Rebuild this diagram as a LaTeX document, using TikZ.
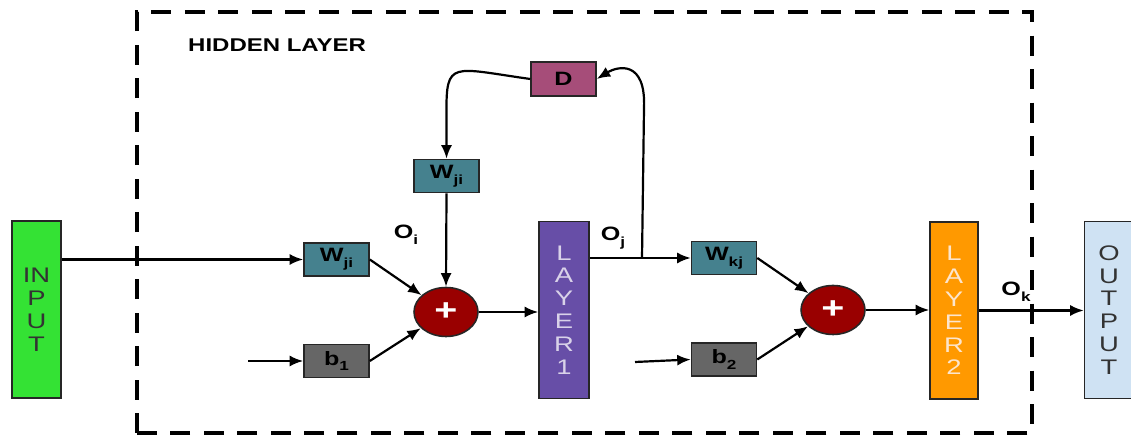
\documentclass[tikz,border=0pt]{standalone}
\usepackage{fontspec}
\setmainfont{Liberation Sans}
\setsansfont[FakeStretch=1.3]{Liberation Sans}
\usepackage{xcolor}
\usepackage{tikz}
\usetikzlibrary{positioning, arrows.meta, calc, shapes.geometric}
\definecolor{inputgreen}{RGB}{52,226,52}
\definecolor{layerpurple}{RGB}{103,78,167}
\definecolor{layerlilac}{RGB}{217,210,233}
\definecolor{layerorange}{RGB}{255,153,0}
\definecolor{layerpeach}{RGB}{252,229,205}
\definecolor{outputblue}{RGB}{207,226,243}
\definecolor{weightteal}{RGB}{69,129,142}
\definecolor{biasgray}{RGB}{102,102,102}
\definecolor{delaypink}{RGB}{166,77,121}
\definecolor{sumred}{RGB}{153,0,0}
\newcommand{\lowidx}[1]{\raisebox{-0.55ex}{\fontsize{7.5}{8}\selectfont #1}}

\begin{document}
\begin{tikzpicture}[
  x=0.02cm, y=0.02cm,
  font=\sffamily,
  box/.style={draw=black!85, line width=0.9pt, inner sep=0pt, minimum width=1.3cm, minimum height=0.66cm, font=\sffamily\bfseries\fontsize{11}{12}\selectfont},
  weightbox/.style={box, fill=weightteal},
  biasbox/.style={box, fill=biasgray},
  delaybox/.style={box, fill=delaypink, minimum height=0.68cm},
  tallbox/.style={draw=black!85, line width=0.9pt, inner sep=0pt, minimum width=0.98cm, minimum height=3.54cm, align=center, font=\sffamily\fontsize{12}{13}\selectfont},
  sumnode/.style={ellipse, draw=black!85, fill=sumred, line width=0.9pt, minimum width=1.28cm, minimum height=0.98cm, inner sep=0pt, text=white, font=\sffamily\bfseries\LARGE},
  idx/.style={font=\sffamily\bfseries\fontsize{11}{12}\selectfont},
  hidden/.style={line width=2.3pt, dash pattern=on 0.4cm off 0.27cm},
  arr/.style={-{Latex[length=2.7mm,width=2.2mm]}, line width=1.25pt}
]
\useasboundingbox (0,0) rectangle (1131,438);

% hidden layer frame
\draw[hidden] (137,5) rectangle (1032,426);
\node[idx, anchor=west, font=\sffamily\bfseries\fontsize{10.5}{12}\selectfont] (hiddenlbl) at (182,393) {HIDDEN LAYER};

% columns
\node[tallbox, fill=inputgreen, text=black!80] (input) at (36.5,128.5) {IN\\P\\U\\T};
\node[tallbox, fill=layerpurple, text=layerlilac, minimum width=1cm] (layer1) at (564,128) {L\\A\\Y\\E\\R\\1};
\node[tallbox, fill=layerorange, text=layerpeach, minimum width=0.96cm] (layer2) at (954,127.5) {L\\A\\Y\\E\\R\\2};
\node[tallbox, fill=outputblue, text=black!80] (output) at (1109,128) {O\\U\\T\\P\\U\\T};

% weights, biases, delay
\node[weightbox] (win) at (336.5,178.5) {W\lowidx{ji}};
\node[biasbox] (bias1) at (336.5,77) {b\lowidx{1}};
\node[weightbox] (wrec) at (446.5,262) {W\lowidx{ji}};
\node[delaybox] (delay) at (563.5,359) {D};
\node[weightbox] (wout) at (724,180) {W\lowidx{kj}};
\node[biasbox] (bias2) at (724,78.5) {b\lowidx{2}};

% summing junctions
\node[sumnode] (sum1) at (446,126) {+};
\node[sumnode] (sum2) at (833,128) {+};

% signal labels
\node[idx] (oi) at (406,203) {O\lowidx{i}};
\node[idx] (oj) at (613,200) {O\lowidx{j}};
\node[idx] (ok) at (1016,146) {O\lowidx{k}};

\coordinate (inb1) at (248,77);
\coordinate (inb2) at (635,76);
\coordinate (tap) at (642,180);

% connections
\draw[arr] (input.east |- win.west) -- (win.west);
\draw[arr] (inb1) -- (bias1.west);
\draw[arr] (win.east) -- (sum1);
\draw[arr] (bias1.east) -- (sum1);
\draw[arr] (wrec.south) -- (sum1.north);
\draw[arr] (sum1.east) -- (sum1.east -| layer1.west);
\draw[arr] (layer1.east |- wout.west) -- (wout.west);
\draw[arr] (inb2) -- (bias2.west);
\draw[arr] (wout.east) -- (sum2);
\draw[arr] (bias2.east) -- (sum2);
\draw[arr] (sum2.east) -- (sum2.east -| layer2.west);
\draw[arr] (layer2.east) -- (layer2.east -| output.west);

% feedback through the delay
\draw[arr] (tap) -- (644,330) .. controls (646,378) and (618,372) .. (delay.east);
\draw[arr] (delay.west) .. controls (452,370) and (446,378) .. (446.5,325) -- (wrec.north);
\end{tikzpicture}
\end{document}
